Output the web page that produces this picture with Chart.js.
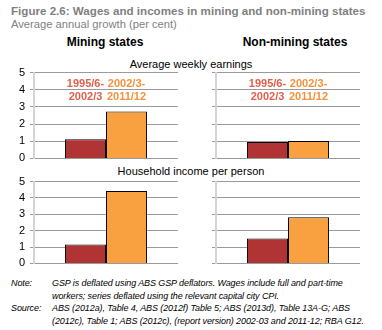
<!DOCTYPE html>
<html>
<head>
<meta charset="utf-8">
<script src="https://cdn.jsdelivr.net/npm/chart.js@4.4.0/dist/chart.umd.min.js"></script>
<style>
  body { margin: 0; background: #fff; font-family: "Liberation Sans", Arial, sans-serif; }
  #wrap { position: relative; width: 382px; height: 330px; overflow: hidden; }
  .t { position: absolute; white-space: nowrap; }
  canvas { position: absolute; }
</style>
</head>
<body>
<div id="wrap">
  <div class="t" style="left:11px;top:4px;font-size:11.6px;font-weight:bold;color:#7f7f7f;">Figure 2.6: Wages and incomes in mining and non-mining states</div>
  <div class="t" style="left:11px;top:18px;font-size:11.2px;color:#7f7f7f;">Average annual growth (per cent)</div>
  <div class="t" style="left:0;width:210px;text-align:center;top:35px;font-size:12px;font-weight:bold;color:#000;">Mining states</div>
  <div class="t" style="left:190px;width:210px;text-align:center;top:35px;font-size:12px;font-weight:bold;color:#000;">Non-mining states</div>
  <div class="t" style="left:0;width:382px;text-align:center;top:58px;font-size:11px;color:#000;">Average weekly earnings</div>
  <div class="t" style="left:0;width:382px;text-align:center;top:165px;font-size:11px;color:#000;">Household income per person</div>

  <canvas id="c1" width="186" height="109" style="left:0;top:61px;"></canvas>
  <canvas id="c2" width="186" height="109" style="left:182px;top:61px;"></canvas>
  <canvas id="c3" width="186" height="105" style="left:0;top:170px;"></canvas>
  <canvas id="c4" width="186" height="105" style="left:182px;top:170px;"></canvas>

  <div class="t" style="left:11px;top:277px;font-size:9px;font-style:italic;color:#000;line-height:12.5px;letter-spacing:-0.1px;">
    <span style="display:inline-block;width:41px;">Note:</span>GSP is deflated using ABS GSP deflators. Wages include full and part-time<br>
    <span style="display:inline-block;width:41px;"></span>workers; series deflated using the relevant capital city CPI.<br>
    <span style="display:inline-block;width:41px;">Source:</span>ABS (2012a), Table 4, ABS (2012f) Table 5; ABS (2013d), Table 13A-G; ABS<br>
    <span style="display:inline-block;width:41px;"></span>(2012c), Table 1; ABS (2012c), (report version) 2002-03 and 2011-12; RBA G12.
  </div>
</div>
<script>
// periods (legend written above the bars in the top panels)
const periods = ["1995/6-\n2002/3", "2002/3-\n2011/12"]
const barColours = ["#b03434", "#f9a040"]
const labelColours = ["#e0604c", "#f5913c"]

// average weekly earnings
const earningsMining = [1.12, 2.74]
const earningsNonMining = [0.95, 1.02]
// household income per person
const incomeMining = [1.15, 4.42]
const incomeNonMining = [1.52, 2.82]

const periodLabels = {
  id: 'periodLabels',
  afterDatasetsDraw(chart, args, opts) {
    if (!opts.show) return
    const ctx = chart.ctx
    ctx.save()
    ctx.font = 'bold 11px "Liberation Sans", Arial, sans-serif'
    ctx.textAlign = 'center'
    ctx.textBaseline = 'middle'
    chart.data.datasets.forEach((ds, i) => {
      const bar = chart.getDatasetMeta(i).data[0]
      ctx.fillStyle = labelColours[i]
      ds.label.split('\n').forEach((line, j) => {
        ctx.fillText(line, bar.x, chart.chartArea.top + 11 + j * 13.5)
      })
    })
    ctx.restore()
  }
}

const makeChart = (id, values, showTicks, showLabels) => {
  const data = {
    labels: [''],
    datasets: periods.map((p, i) => ({
      label: p,
      data: [values[i]],
      backgroundColor: barColours[i],
      borderColor: '#000',
      borderWidth: 1,
      borderSkipped: 'bottom',
      categoryPercentage: 0.57,
      barPercentage: 1
    }))
  }
  return new Chart(document.querySelector(id), {
    type: 'bar',
    data,
    plugins: [periodLabels],
    options: {
      responsive: false,
      animation: false,
      layout: { padding: { top: 0, right: 8, bottom: 0, left: 0 } },
      plugins: {
        legend: { display: false },
        tooltip: { enabled: false },
        periodLabels: { show: showLabels }
      },
      scales: {
        x: { display: false },
        y: {
          min: 0,
          max: 5,
          afterFit: s => { s.width = 34 },
          grid: { color: '#9a9a9a', lineWidth: 1, tickLength: 4 },
          border: { color: '#d4d4d4', width: 2 },
          ticks: {
            stepSize: 1,
            autoSkip: false,
            color: showTicks ? '#000' : 'rgba(0,0,0,0)',
            font: { family: '"Liberation Sans", Arial, sans-serif', size: 11 },
            padding: 5
          }
        }
      }
    }
  })
}

makeChart('#c1', earningsMining, true, true)
makeChart('#c2', earningsNonMining, false, true)
makeChart('#c3', incomeMining, true, false)
makeChart('#c4', incomeNonMining, false, false)
</script>
</body>
</html>
